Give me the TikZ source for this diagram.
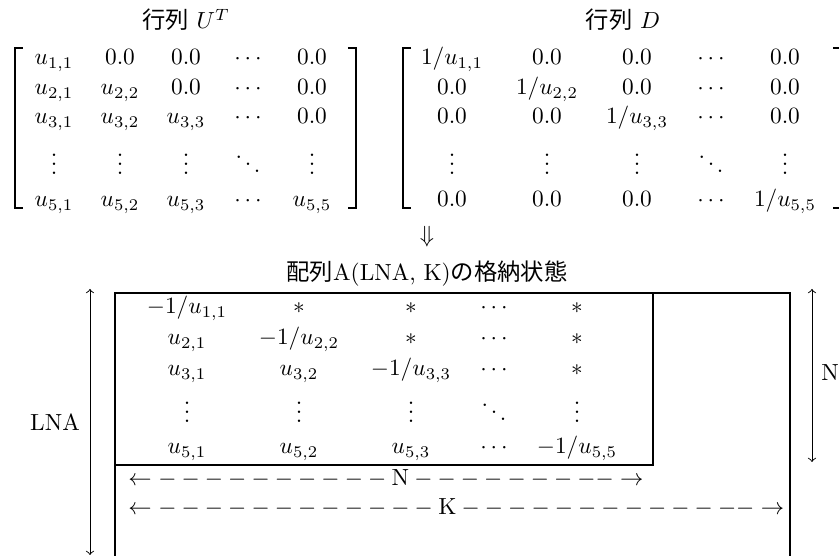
\documentclass[tikz,border=0pt]{standalone}
\usepackage{fontspec}
\newfontfamily\jp{Noto Sans CJK JP}
\begin{document}
\begin{tikzpicture}[x=0.4286pt, y=-0.4286pt,
  ent/.style={inner sep=0pt, anchor=base},
  brk/.style={line width=0.6pt},
  stem/.style={line width=1.1pt},
  frame/.style={line width=1.2pt},
  dim/.style={<->, line width=0.4pt},
  lbl/.style={inner sep=0pt}]
\useasboundingbox (0,0) rectangle (839,556);
\clip (0,0) rectangle (839,556);

% ---------- titles ----------
\node[ent] (tU) at (186,29) {{\jp 行列} $U^T$};
\node[ent] (tD) at (623,29) {{\jp 行列} $D$};

% ---------- brackets ----------
\draw[brk] (23,48) -| (15,208) -- (23,208);
\draw[stem] (15,48) -- (15,208);
\draw[brk] (348,48) -| (356,208) -- (348,208);
\draw[stem] (356,48) -- (356,208);
\draw[brk] (411,48) -| (403,208) -- (411,208);
\draw[stem] (403,48) -- (403,208);
\draw[brk] (833,48) -| (841,208) -- (833,208);

% ---------- matrix U^T ----------
\node[ent] (U11) at (54,65) {$u_{1,1}$};
\node[ent] (U12) at (120,65) {$0.0$};
\node[ent] (U13) at (186,65) {$0.0$};
\node[ent] (U14) at (248,65) {$\cdots$};
\node[ent] (U15) at (312,65) {$0.0$};
\node[ent] (U21) at (54,95) {$u_{2,1}$};
\node[ent] (U22) at (120,95) {$u_{2,2}$};
\node[ent] (U23) at (186,95) {$0.0$};
\node[ent] (U24) at (248,95) {$\cdots$};
\node[ent] (U25) at (312,95) {$0.0$};
\node[ent] (U31) at (54,124) {$u_{3,1}$};
\node[ent] (U32) at (120,124) {$u_{3,2}$};
\node[ent] (U33) at (186,124) {$u_{3,3}$};
\node[ent] (U34) at (248,124) {$\cdots$};
\node[ent] (U35) at (312,124) {$0.0$};
\node[ent] (U41) at (54,175) {$\vdots$};
\node[ent] (U42) at (120,175) {$\vdots$};
\node[ent] (U43) at (186,175) {$\vdots$};
\node[ent] (U44) at (248,175) {$\ddots$};
\node[ent] (U45) at (312,175) {$\vdots$};
\node[ent] (U51) at (54,207) {$u_{5,1}$};
\node[ent] (U52) at (120,207) {$u_{5,2}$};
\node[ent] (U53) at (186,207) {$u_{5,3}$};
\node[ent] (U54) at (248,207) {$\cdots$};
\node[ent] (U55) at (312,207) {$u_{5,5}$};

% ---------- matrix D ----------
\node[ent] (D11) at (452,65) {$1/u_{1,1}$};
\node[ent] (D12) at (547,65) {$0.0$};
\node[ent] (D13) at (637,65) {$0.0$};
\node[ent] (D14) at (711,65) {$\cdots$};
\node[ent] (D15) at (785,65) {$0.0$};
\node[ent] (D21) at (452,95) {$0.0$};
\node[ent] (D22) at (547,95) {$1/u_{2,2}$};
\node[ent] (D23) at (637,95) {$0.0$};
\node[ent] (D24) at (711,95) {$\cdots$};
\node[ent] (D25) at (785,95) {$0.0$};
\node[ent] (D31) at (452,124) {$0.0$};
\node[ent] (D32) at (547,124) {$0.0$};
\node[ent] (D33) at (637,124) {$1/u_{3,3}$};
\node[ent] (D34) at (711,124) {$\cdots$};
\node[ent] (D35) at (785,124) {$0.0$};
\node[ent] (D41) at (452,175) {$\vdots$};
\node[ent] (D42) at (547,175) {$\vdots$};
\node[ent] (D43) at (637,175) {$\vdots$};
\node[ent] (D44) at (711,175) {$\ddots$};
\node[ent] (D45) at (785,175) {$\vdots$};
\node[ent] (D51) at (452,207) {$0.0$};
\node[ent] (D52) at (547,207) {$0.0$};
\node[ent] (D53) at (637,207) {$0.0$};
\node[ent] (D54) at (711,207) {$\cdots$};
\node[ent] (D55) at (785,207) {$1/u_{5,5}$};

% ---------- arrow and storage title ----------
\node[lbl] (down) at (427,237) {$\Downarrow$};
\node[ent] (tA) at (427,281) {{\jp 配列}A(LNA, K){\jp の格納状態}};

% ---------- boxes ----------
\draw[frame] (115,293) rectangle (790,620);
\draw[frame] (115,293) rectangle (653,465);

% ---------- stored array ----------
\node[ent] (A11) at (187,314) {$-1/u_{1,1}$};
\node[ent] (A12) at (299,314) {$*$};
\node[ent] (A13) at (411,314) {$*$};
\node[ent] (A14) at (494,314) {$\cdots$};
\node[ent] (A15) at (577,314) {$*$};
\node[ent] (A21) at (187,345) {$u_{2,1}$};
\node[ent] (A22) at (299,345) {$-1/u_{2,2}$};
\node[ent] (A23) at (411,345) {$*$};
\node[ent] (A24) at (494,345) {$\cdots$};
\node[ent] (A25) at (577,345) {$*$};
\node[ent] (A31) at (187,376) {$u_{3,1}$};
\node[ent] (A32) at (299,376) {$u_{3,2}$};
\node[ent] (A33) at (411,376) {$-1/u_{3,3}$};
\node[ent] (A34) at (494,376) {$\cdots$};
\node[ent] (A35) at (577,376) {$*$};
\node[ent] (A41) at (187,423) {$\vdots$};
\node[ent] (A42) at (299,423) {$\vdots$};
\node[ent] (A43) at (411,423) {$\vdots$};
\node[ent] (A44) at (494,423) {$\ddots$};
\node[ent] (A45) at (577,423) {$\vdots$};
\node[ent] (A51) at (187,454) {$u_{5,1}$};
\node[ent] (A52) at (299,454) {$u_{5,2}$};
\node[ent] (A53) at (411,454) {$u_{5,3}$};
\node[ent] (A54) at (494,454) {$\cdots$};
\node[ent] (A55) at (577,454) {$-1/u_{5,5}$};

% ---------- dashed width rows ----------
\node[inner sep=0pt, anchor=base west] (nrow) at (128,486)
  {$\leftarrow - - - - - - - - - -\mbox{N}- - - - - - - - - \rightarrow$};
\node[inner sep=0pt, anchor=base west] (krow) at (128,515)
  {$\leftarrow - - - - - - - - - - - -\mbox{K}- - - - - - - - - - - - - \rightarrow$};

% ---------- dimension arrows ----------
\coordinate (lnaT) at (90,289);
\coordinate (lnaB) at (90,555);
\draw[dim] (lnaT) -- (lnaB);
\node[lbl] (lna) at (55,422) {LNA};
\coordinate (nT) at (812,289);
\coordinate (nB) at (812,462);
\draw[dim] (nT) -- (nB);
\node[lbl] (nlab) at (830,373) {N};
\end{tikzpicture}
\end{document}
